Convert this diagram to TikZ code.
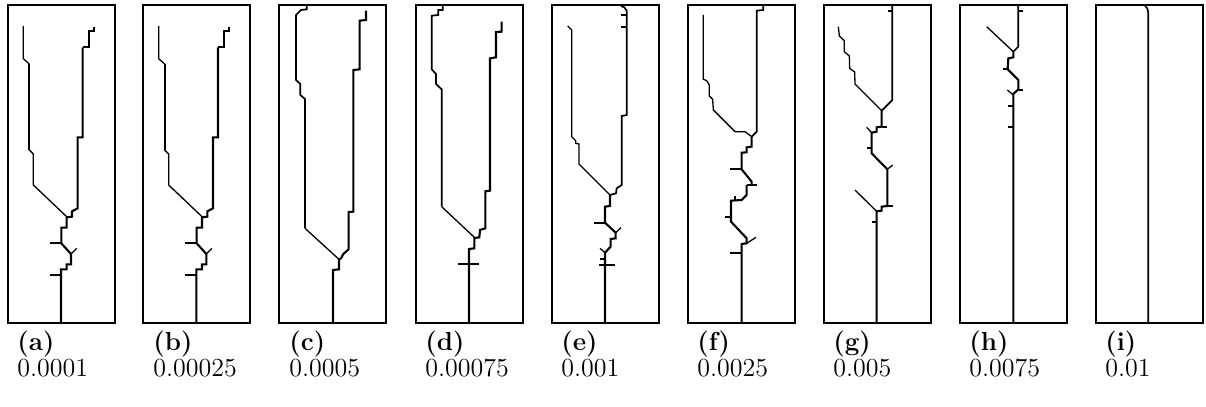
\documentclass[tikz,border=0pt]{standalone}
\usepackage{fontspec}
\begin{document}
\begin{tikzpicture}[x=0.5pt,y=-0.5pt,
  line join=miter,
  frame/.style={line width=1pt},
  crackthin/.style={line width=0.65pt},
  crackmid/.style={line width=0.85pt},
  crackthick/.style={line width=1.05pt},
  caplabel/.style={anchor=base west, inner sep=0pt, font=\fontsize{13}{15.6}\selectfont\bfseries},
  vallabel/.style={anchor=base west, inner sep=0pt, font=\fontsize{13}{15.6}\selectfont}]
\useasboundingbox (0,0) rectangle (1206,407);

% crack pattern shared by the two smallest values
\newcommand\crackfan{%
  \draw[crackthin] (70,78) -- (70,176) -- (88,192);
  \draw[crackthick] (88,192) -- (88,450);
  \draw[crackthin] (88,450) -- (100,462) -- (100,555) -- (200,650);
  \draw[crackmid] (281,80) -- (281,94) -- (266,94) -- (266,142) -- (248,142);
  \draw[crackthick] (248,142) -- (248,412) -- (233,412) -- (233,625) -- (216,634)
    -- (216,650) -- (200,652) -- (200,683) -- (184,683) -- (184,730) -- (213,762)
    -- (213,793) -- (200,793) -- (200,808) -- (183,808) -- (183,968);
  \draw[crackthick] (150,730) -- (184,730) (150,825) -- (183,825);
  \draw[crackthin] (213,762) -- (230,745);
}

% (a)
\begin{scope}[shift={(0,0)},scale=1/3]
  \draw[frame] (24,16) rectangle (345,968);
  \crackfan
\end{scope}

% (b)
\begin{scope}[shift={(135.33,0)},scale=1/3]
  \draw[frame] (24,16) rectangle (345,968);
  \crackfan
\end{scope}

% (c)
\begin{scope}[shift={(260,0)},scale=1/3]
  \draw[frame] (57,16) rectangle (378,968);
  \draw[crackmid] (140,18) -- (140,28) -- (123,30) -- (108,45) -- (108,240) -- (121,252)
    -- (121,285) -- (135,297) -- (135,685);
  \draw[crackthin] (135,685) -- (237,778);
  \draw[crackthick] (318,32) -- (318,60) -- (299,62) -- (299,208) -- (280,210) -- (280,635)
    -- (266,636) -- (266,748) -- (250,762) -- (243,775) -- (237,778) -- (237,808)
    -- (219,810) -- (219,968);
\end{scope}

% (d)
\begin{scope}[shift={(390,0)},scale=1/3]
  \draw[frame] (77,16) rectangle (398,968);
  \draw[crackmid] (158,18) -- (158,30) -- (145,30) -- (145,45) -- (125,47) -- (125,208)
    -- (138,222) -- (138,252) -- (155,268) -- (155,620);
  \draw[crackthin] (155,620) -- (253,712);
  \draw[crackthick] (335,65) -- (335,95) -- (318,96) -- (318,172) -- (300,175) -- (300,572)
    -- (286,574) -- (286,685) -- (270,690) -- (268,712) -- (253,714) -- (253,745)
    -- (237,747) -- (237,968);
  \draw[crackthick] (205,793) -- (268,793);
\end{scope}

% (e)
\begin{scope}[shift={(520,0)},scale=1/3]
  \draw[frame] (97,16) rectangle (418,968);
  \draw[crackthin] (143,78) -- (155,90) -- (155,410) -- (167,422) -- (167,430) -- (177,432)
    -- (177,492) -- (270,585);
  \draw[crackmid] (303,18) -- (313,22) -- (320,32) -- (320,345) -- (305,348) -- (305,555)
    -- (290,565) -- (288,580) -- (270,585);
  \draw[crackthick] (270,585) -- (270,618) -- (255,620) -- (255,668) -- (287,698) -- (287,715)
    -- (272,717) -- (272,740) -- (255,758) -- (255,968);
  \draw[crackthick] (303,45) -- (320,45) (303,80) -- (320,80) (222,668) -- (255,668)
    (240,777) -- (258,777) (238,795) -- (285,795);
  \draw[crackthin] (287,698) -- (303,683) (240,745) -- (255,758);
\end{scope}

% (f)
\begin{scope}[shift={(650,0)},scale=1/3]
  \draw[frame] (113,16) rectangle (434,968);
  \draw[crackthin] (160,45) -- (160,238) -- (170,242) -- (178,255) -- (178,288) -- (188,298)
    -- (190,330) -- (198,338) -- (255,395) -- (285,395) -- (305,410);
  \draw[crackmid] (340,18) -- (340,30) -- (320,32) -- (320,395) -- (305,410);
  \draw[crackthick] (305,410) -- (305,440) -- (290,442) -- (290,457) -- (275,458) -- (275,508)
    -- (305,545) -- (305,555);
  \draw[crackthick] (290,555) -- (320,555);
  \draw[crackthick] (290,555) -- (290,585) -- (275,600) -- (243,602) -- (243,665) -- (290,715)
    -- (290,730) -- (275,732) -- (275,968);
  \draw[crackthick] (240,508) -- (275,508) (255,588) -- (255,602) (225,650) -- (243,650)
    (240,760) -- (275,760);
  \draw[crackthin] (290,730) -- (318,712);
\end{scope}

% (g)
\begin{scope}[shift={(785,0)},scale=1/3]
  \draw[frame] (117,16) rectangle (438,968);
  \draw[crackthin] (160,80) -- (163,108) -- (178,122) -- (178,155) -- (193,168) -- (194,205)
    -- (209,216) -- (210,252) -- (290,332);
  \draw[crackmid] (322,18) -- (322,300) -- (290,332);
  \draw[crackthick] (290,332) -- (290,380) -- (275,382) -- (275,395) -- (260,398) -- (260,460)
    -- (307,508) -- (307,618) -- (290,620) -- (290,632) -- (275,634) -- (275,968);
  \draw[crackthick] (308,32) -- (322,32) (290,380) -- (307,380) (245,445) -- (260,445)
    (307,618) -- (323,618) (260,665) -- (275,665);
  \draw[crackthin] (260,398) -- (245,382) (307,508) -- (323,495) (210,570) -- (275,634);
\end{scope}

% (h)
\begin{scope}[shift={(920,0)},scale=1/3]
  \draw[frame] (120,16) rectangle (441,968);
  \draw[crackmid] (295,18) -- (295,140) -- (280,155);
  \draw[crackthin] (200,80) -- (280,155);
  \draw[crackthick] (280,155) -- (280,172) -- (265,175) -- (263,208) -- (295,240) -- (295,268)
    -- (280,282) -- (280,968);
  \draw[crackthick] (295,32) -- (310,32) (248,208) -- (263,208) (295,270) -- (310,270)
    (265,318) -- (280,318) (265,380) -- (280,380);
  \draw[crackthin] (262,270) -- (280,285);
\end{scope}

% (i)
\begin{scope}[shift={(1050,0)},scale=1/3]
  \draw[frame] (137,16) rectangle (458,968);
  \draw[crackmid] (285,18) -- (292,25) -- (295,40) -- (295,968);
\end{scope}

% sub-captions
\foreach \l/\v [count=\i from 0] in {a/0.0001, b/0.00025, c/0.0005, d/0.00075,
    e/0.001, f/0.0025, g/0.005, h/0.0075, i/0.01} {
  \node[caplabel] (cap-\l) at (17+136*\i,350) {(\l)};
  \node[vallabel] (val-\l) at (17+136*\i,376) {\v};
}
\end{tikzpicture}
\end{document}
